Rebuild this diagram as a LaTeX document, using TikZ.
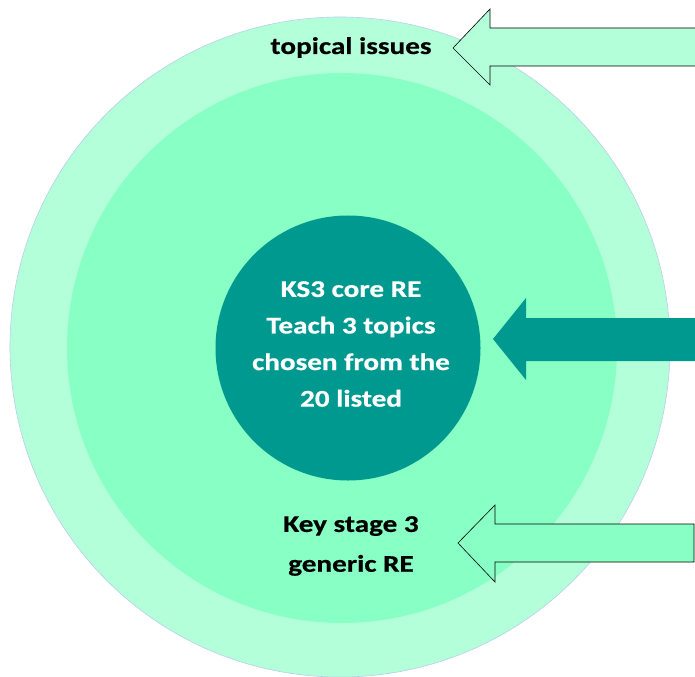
\documentclass[tikz,border=0pt]{standalone}
\usepackage{fontspec}
\setmainfont{Carlito}
\newfontfamily\ringfont{Carlito}[FakeStretch=1.22,FakeBold=0.6]
\usetikzlibrary{positioning}

\definecolor{ringpale}{HTML}{B3FFDA}
\definecolor{ringmint}{HTML}{88FFC4}
\definecolor{coreteal}{HTML}{009990}
\definecolor{ringedge}{HTML}{B9CDEB}

\begin{document}
\begin{tikzpicture}[x=1bp,y=-1bp]
	\tikzstyle{every node}+=[inner sep=0pt]
	\tikzstyle{ring}=[circle,draw=none]
	\tikzstyle{label}=[font=\ringfont\bfseries\fontsize{24}{36.7}\selectfont,align=center]
	\useasboundingbox (0,0) rectangle (695,677);
	% circles
	\node [ring,fill=ringpale,draw=ringedge,line width=0.6bp,minimum size=660bp] (outer) at (340,347) {};
	\node [ring,fill=ringmint,minimum size=550bp] (middle) at (342,348) {};
	\node [ring,fill=coreteal,minimum size=265bp] (core) at (348,348) {};
	% arrows
	\draw [black,fill=ringpale,line width=0.6bp] (697,28) -- (490,28) -- (490,9) -- (453,48) -- (490,85) -- (490,66) -- (697,66) -- cycle;
	\fill [coreteal] (697,318) -- (526,318) -- (526,298) -- (493,339) -- (526,380) -- (526,361) -- (697,361) -- cycle;
	\draw [black,fill=ringmint,line width=0.6bp] (694,524) -- (495,524) -- (495,505) -- (458,543) -- (495,582) -- (495,562) -- (694,562) -- cycle;
	% texts
	\node [label,anchor=base] (topical) at (351,54) {topical issues};
	\node [label,text=white] (coretext) at (351,344) {KS3 core RE\\Teach 3 topics\\chosen from the\\20 listed};
	\node [label,font=\ringfont\bfseries\fontsize{24}{40}\selectfont] (generic) at (351,546) {Key stage 3\\generic RE};
\end{tikzpicture}
\end{document}
